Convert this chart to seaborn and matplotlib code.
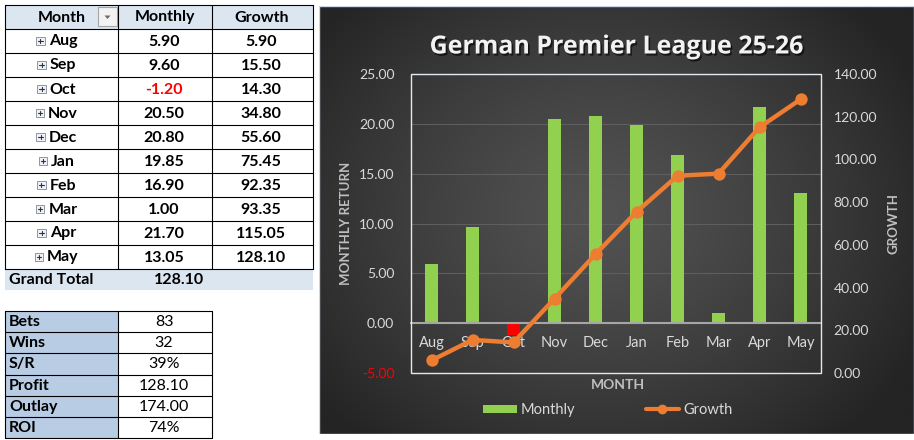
import numpy as np
import pandas as pd
import matplotlib
matplotlib.use("Agg")
import matplotlib.pyplot as plt
import seaborn as sns
from matplotlib.patches import Rectangle, Patch, Polygon
from matplotlib.lines import Line2D
import matplotlib.patheffects as pe

# ---------------- data ----------------
months = ["Aug", "Sep", "Oct", "Nov", "Dec", "Jan", "Feb", "Mar", "Apr", "May"]
monthly = [5.90, 9.60, -1.20, 20.50, 20.80, 19.85, 16.90, 1.00, 21.70, 13.05]
growth = [5.90, 15.50, 14.30, 34.80, 55.60, 75.45, 92.35, 93.35, 115.05, 128.10]
grand_total = 128.10
table_headers = ["Month", "Monthly", "Growth"]
stat_labels = ["Bets", "Wins", "S/R", "Profit", "Outlay", "ROI"]
stat_values = ["83", "32", "39%", "128.10", "174.00", "74%"]
left_ticks = [-5, 0, 5, 10, 15, 20, 25]
right_ticks = [0, 20, 40, 60, 80, 100, 120, 140]
chart_title = "German Premier League 25-26"
legend_labels = ["Monthly", "Growth"]

# ---------------- style ----------------
sns.set_theme(style="white")
plt.rcParams['font.family'] = ['Lato', 'DejaVu Sans']

GREEN = "#92D050"
RED = "#FF0000"
ORANGE = "#ED7D31"
TICK = "#d9d9d9"
AXT = "#bfbfbf"

W, H = 914, 440
fig = plt.figure(figsize=(W / 100, H / 100), dpi=100)
fig.patch.set_facecolor("white")


def fx(x):
    return x / W


def fy(y):
    return 1 - y / H


# ---------------- left tables (pixel coordinate overlay) ----------------
axT = fig.add_axes([0, 0, 1, 1])
axT.set_xlim(0, W)
axT.set_ylim(H, 0)
axT.axis("off")

LW = 0.8
cols = [5, 118, 212, 313]
top, hdr_bot, rh = 5, 29, 24
n = len(months)
bot = hdr_bot + rh * n

axT.add_patch(Rectangle((5, top), 308, hdr_bot - top, fc="#DCE6F1", ec="none"))
axT.add_patch(Rectangle((5, bot), 308, 21.5, fc="#DCE6F1", ec="none"))
for yy in [top, hdr_bot] + [hdr_bot + rh * (i + 1) for i in range(n)]:
    axT.plot([5, 313], [yy, yy], color="black", lw=LW)
for xx in cols:
    axT.plot([xx, xx], [top, bot], color="black", lw=LW)

FS = 11.5
axT.text(62, 17.5, table_headers[0], ha="center", va="center", fontsize=FS, fontweight="bold", color="black")
axT.text(165, 17.5, table_headers[1], ha="center", va="center", fontsize=FS, fontweight="bold", color="black")
axT.text(262, 17.5, table_headers[2], ha="center", va="center", fontsize=FS, fontweight="bold", color="black")
# dropdown button
axT.add_patch(Rectangle((98, 7.5), 19, 19, fc="#f2f2f2", ec="#a6a6a6", lw=0.8))
axT.add_patch(Polygon([[104.5, 15.5], [110.5, 15.5], [107.5, 19]], closed=True, fc="#6b6b6b", ec="none"))

labels_txt = []
for i, (m, v, g) in enumerate(zip(months, monthly, growth)):
    yc = hdr_bot + rh * i + rh / 2 + 0.5
    t = axT.text(63, yc, m, ha="center", va="center", fontsize=FS, fontweight="bold", color="black")
    labels_txt.append((t, yc))
    axT.text(164, yc, f"{v:.2f}", ha="center", va="center", fontsize=FS, fontweight="bold",
             color=RED if v < 0 else "black")
    axT.text(261, yc, f"{g:.2f}", ha="center", va="center", fontsize=FS, fontweight="bold", color="black")

axT.text(9, bot + 10.5, "Grand Total", ha="left", va="center", fontsize=FS, fontweight="bold", color="black")
axT.text(179, bot + 10.5, f"{grand_total:.2f}", ha="center", va="center", fontsize=FS, fontweight="bold", color="black")

# stats table
st_top, st_rh = 311, 21.17
st_bot = st_top + st_rh * len(stat_labels)
axT.add_patch(Rectangle((5, st_top), 113, st_bot - st_top, fc="#B8CCE4", ec="none"))
for i in range(len(stat_labels) + 1):
    yy = st_top + st_rh * i
    axT.plot([5, 212], [yy, yy], color="black", lw=LW)
for xx in [5, 118, 212]:
    axT.plot([xx, xx], [st_top, st_bot], color="black", lw=LW)
for i, (lab, val) in enumerate(zip(stat_labels, stat_values)):
    yc = st_top + st_rh * i + st_rh / 2 + 0.5
    axT.text(9, yc, lab, ha="left", va="center", fontsize=FS, fontweight="bold", color="black")
    axT.text(164, yc, val, ha="center", va="center", fontsize=FS, color="black")

# ---------------- chart panel background ----------------
px0, px1, py0, py1 = 319, 914, 6, 434
axP = fig.add_axes([fx(px0), fy(py1), fx(px1 - px0), (py1 - py0) / H])
xs = np.linspace(px0, px1, 400)
ys = np.linspace(py0, py1, 300)
XX, YY = np.meshgrid(xs, ys)
r = np.sqrt(((XX - 600) / 360.0) ** 2 + ((YY - 215) / 300.0) ** 2)
r = np.clip(r, 0, 1)
c_in = np.array([0x52, 0x52, 0x52]) / 255
c_out = np.array([0x24, 0x24, 0x24]) / 255
t_ = r ** 1.3
img = c_in[None, None, :] * (1 - t_[..., None]) + c_out[None, None, :] * t_[..., None]
axP.imshow(img, extent=[px0, px1, py1, py0], aspect="auto", interpolation="bilinear")
axP.set_xlim(px0, px1)
axP.set_ylim(py1, py0)
axP.axis("off")
axP.add_patch(Rectangle((px0, py0), px1 - px0, py1 - py0, fill=False, ec="#c9d6ea", lw=1.0))

# ---------------- main chart ----------------
L, R, T, B = 411, 821, 74, 373
ax = fig.add_axes([fx(L), fy(B), fx(R - L), (B - T) / H])
ax.set_facecolor("none")
ax.set_zorder(3)

df = pd.DataFrame({"Month": months, "Monthly": monthly, "Growth": growth})
bar_pal = {m: (RED if v < 0 else GREEN) for m, v in zip(months, monthly)}
sns.barplot(data=df, x="Month", y="Monthly", hue="Month", palette=bar_pal, dodge=False,
            width=0.32, saturation=1, legend=False, ax=ax, zorder=2,
            edgecolor="none", linewidth=0)
ax.set_ylim(-5, 25)
ax.set_yticks(left_ticks)
ax.set_yticklabels([f"{v:.2f}" for v in left_ticks])
for lab, v in zip(ax.get_yticklabels(), left_ticks):
    lab.set_color(RED if v < 0 else TICK)
ax.grid(axis="y", color="#5e5e5e", lw=0.8)
ax.grid(axis="x", visible=False)
for s in ["left", "right", "top"]:
    ax.spines[s].set_visible(False)
ax.spines["bottom"].set_position(("data", 0))
ax.spines["bottom"].set_color("#a6a6a6")
ax.spines["bottom"].set_linewidth(1.5)
ax.spines["bottom"].set_zorder(2.5)
ax.tick_params(axis="y", length=0, pad=12, labelsize=10)
ax.tick_params(axis="x", length=0, pad=9.5, labelsize=10.5, labelcolor=TICK)
ax.set_xlabel("")
ax.set_ylabel("")
ax.add_patch(Rectangle((0, 0), 1, 1, transform=ax.transAxes, fill=False, ec="#e3e9f3", lw=1.0, clip_on=False, zorder=4))

ax2 = ax.twinx()
sns.pointplot(data=df, x="Month", y="Growth", color=ORANGE, markers="o", markersize=6.5,
              linewidth=3.2, errorbar=None, ax=ax2)
ax2.set_ylim(0, 140)
ax2.set_xlim(-0.5, len(months) - 0.5)
ax2.set_yticks(right_ticks)
ax2.set_yticklabels([f"{v:.2f}" for v in right_ticks])
ax2.tick_params(axis="y", length=0, pad=9, labelsize=10, labelcolor=TICK)
for s in ax2.spines.values():
    s.set_visible(False)
ax2.grid(False)
ax2.set_ylabel("")
ax2.set_xlabel("")

# axis titles
fig.text(fx(346), fy(223), "MONTHLY RETURN", rotation=90, ha="center", va="center",
         fontsize=9.5, fontweight="bold", color=AXT)
fig.text(fx(893), fy(224), "GROWTH", rotation=90, ha="center", va="center",
         fontsize=9.5, fontweight="bold", color=AXT)
fig.text(fx(618), fy(385), "MONTH", ha="center", va="center",
         fontsize=10, fontweight="bold", color=AXT)

# title
fig.text(fx(617), fy(47), chart_title, ha="center", va="center", fontsize=18, fontweight="bold",
         family=["Open Sans", "DejaVu Sans"], color="#f2f2f2",
         path_effects=[pe.SimplePatchShadow(offset=(1.2, -1.5), shadow_rgbFace="black", alpha=0.6), pe.Normal()])

# legend
handles = [Patch(fc=GREEN, ec="none", label=legend_labels[0]),
           Line2D([], [], color=ORANGE, lw=3, marker="o", ms=6, label=legend_labels[1])]
fig.legend(handles=handles, loc="center", bbox_to_anchor=(fx(608), fy(410)), ncol=2, frameon=False,
           fontsize=10.5, labelcolor=TICK, handlelength=2.3, handleheight=0.5, handletextpad=0.3,
           columnspacing=4.8)

# plus icons beside month labels in the pivot table
fig.canvas.draw()
inv = axT.transData.inverted()
for t, yc in labels_txt:
    bb = t.get_window_extent()
    x_left = inv.transform((bb.x0, bb.y0))[0]
    bx1 = x_left - 4
    bx0 = bx1 - 8.5
    axT.add_patch(Rectangle((bx0, yc - 4.5), 8.5, 8.5, fc="#eef1f6", ec="#8c96a6", lw=0.7))
    axT.plot([bx0 + 2, bx1 - 2], [yc - 0.25, yc - 0.25], color="#333333", lw=0.8)
    axT.plot([(bx0 + bx1) / 2, (bx0 + bx1) / 2], [yc - 2.5, yc + 2.0], color="#333333", lw=0.8)

fig.savefig("out.png", dpi=100)
